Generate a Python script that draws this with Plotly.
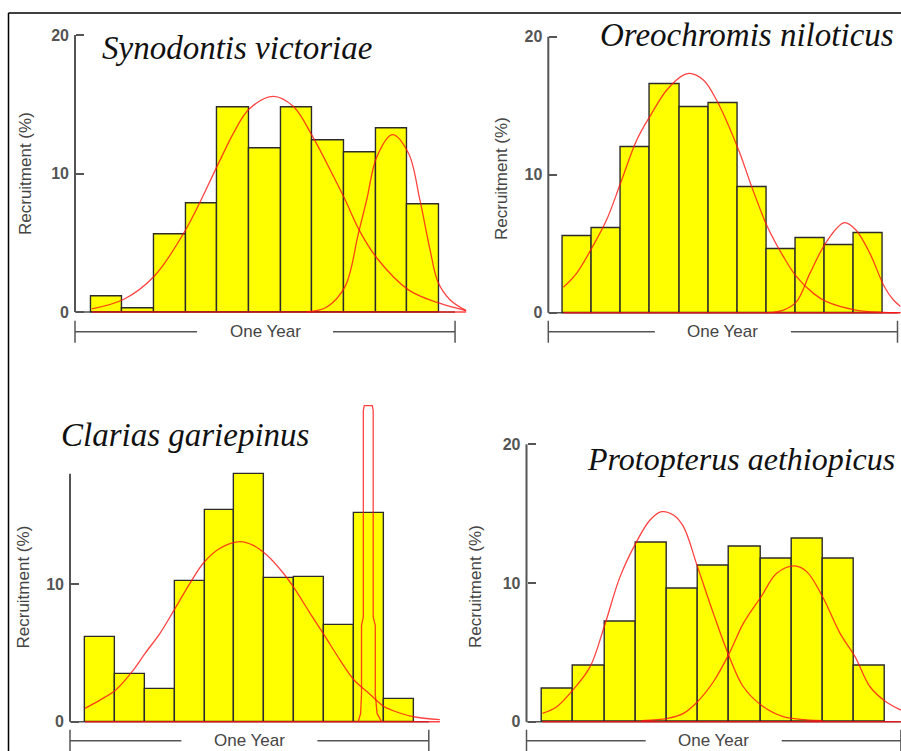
import plotly.graph_objects as go

# Page margins are removed (see post_script), so figure pixels equal screen pixels.
OFF = 0
W, H = 901, 751

# ---------------- data ----------------
months = [1, 2, 3, 4, 5, 6, 7, 8, 9, 10, 11]

syn_bars = [1.13, 0.29, 5.63, 7.82, 14.78, 11.84, 14.78, 12.37, 11.55, 13.24, 7.80]
ore_bars = [5.56, 6.11, 12.03, 16.57, 14.93, 15.22, 9.08, 4.59, 5.39, 4.86, 5.80]
cla_bars = [6.17, 3.49, 2.37, 10.24, 15.38, 18.0, 10.46, 10.48, 7.0, 15.13, 1.62]
pro_bars = [2.36, 4.04, 7.21, 12.91, 9.62, 11.25, 12.62, 11.78, 13.17, 11.78, 4.04]

syn_c1_x = [0.53, 1.56, 2.5, 3.49, 4.53, 5.0, 5.5, 6.26, 6.89, 7.5, 8.16, 8.53, 9.0, 9.53, 10.53, 11.46, 12.35]
syn_c1_y = [0.22, 0.94, 2.58, 5.92, 10.73, 12.9, 14.66, 15.57, 14.85, 12.68, 9.8, 8.1, 5.8, 3.9, 1.6, 0.67, 0.1]
syn_c2_x = [7.32, 7.95, 8.53, 8.95, 9.21, 9.53, 10.02, 10.53, 10.89, 11.21, 11.46, 11.84, 12.35]
syn_c2_y = [0.0, 0.36, 1.85, 5.7, 8.09, 11.2, 12.8, 11.46, 8.09, 4.5, 2.17, 0.89, 0.1]

ore_c1_x = [0.52, 0.97, 1.52, 2.0, 2.5, 3.04, 3.52, 4.07, 4.64, 4.87, 5.33, 5.78, 6.54, 6.99, 7.53, 8.08, 8.53, 9.11, 9.56, 10.57, 11.51, 12.12]
ore_c1_y = [1.84, 2.85, 4.78, 6.71, 9.49, 12.51, 14.32, 16.14, 17.22, 17.34, 16.86, 15.41, 11.79, 9.13, 6.23, 4.06, 2.61, 1.4, 0.8, 0.19, 0.02, 0.0]
ore_c2_x = [7.53, 8.08, 8.53, 8.99, 9.56, 10.17, 10.57, 11.05, 11.55, 11.86, 12.12]
ore_c2_y = [0.0, 0.19, 0.8, 2.85, 5.14, 6.52, 5.99, 4.3, 1.88, 0.92, 0.43]

cla_c1_x = [0.5, 1.0, 1.53, 2.12, 2.51, 3.01, 3.48, 4.01, 4.49, 5.02, 5.69, 6.13, 6.58, 7.13, 7.5, 8.03, 8.5, 9.03, 9.5, 10.03, 10.3, 10.5, 11.0, 11.5, 12.37]
cla_c1_y = [0.97, 1.57, 2.3, 3.75, 4.96, 6.42, 8.1, 10.05, 11.6, 12.6, 13.07, 12.8, 12.1, 10.8, 9.7, 7.87, 6.3, 4.48, 3.03, 2.0, 1.45, 1.1, 0.65, 0.36, 0.15]
cla_c2_x = [9.64, 9.72, 9.75, 9.75, 9.81, 9.81, 9.84, 10.11, 10.14, 10.14, 10.21, 10.21, 10.27, 10.42]
cla_c2_y = [0.0, 0.6, 2.0, 7.0, 7.6, 22.6, 22.95, 22.95, 22.6, 7.6, 7.0, 2.0, 0.6, 0.0]

pro_c1_x = [0.51, 0.97, 1.53, 2.04, 2.49, 3.0, 3.5, 3.96, 4.33, 4.71, 5.03, 5.48, 5.99, 6.5, 6.95, 7.52, 8.23, 8.77, 9.49]
pro_c1_y = [0.6, 1.08, 2.4, 3.97, 6.85, 10.46, 12.86, 14.54, 15.14, 14.9, 14.06, 11.18, 7.81, 4.69, 2.52, 1.2, 0.36, 0.17, 0.07]
pro_c2_x = [3.69, 4.52, 5.03, 5.48, 5.99, 6.5, 6.95, 7.52, 8.02, 8.59, 8.98, 9.49, 10.05, 10.53, 11.01, 11.52, 12.0]
pro_c2_y = [0.07, 0.24, 0.6, 1.44, 2.88, 4.93, 7.09, 9.01, 10.7, 11.23, 10.82, 9.01, 6.37, 4.69, 2.52, 1.44, 0.84]

titles = ["Synodontis victoriae", "Oreochromis niloticus", "Clarias gariepinus", "Protopterus aethiopicus"]
y_label = "Recruitment (%)"
x_label = "One Year"

# ---------------- layout geometry (screen pixels of the reference) ----------------
panels = [
    dict(bars=syn_bars, curves=[(syn_c1_x, syn_c1_y, "spline"), (syn_c2_x, syn_c2_y, "spline")],
         ox=75, sx=31.67, oy=312, sy=13.85, xr=(-0.5, 12.45), yr=(-0.6, 21.2),
         ytop=20, tickv=[0, 10, 20], brk=331.7,
         title=dict(x=237, y=48, anchor="center", size=33), ylab=(25, 174)),
    dict(bars=ore_bars, curves=[(ore_c1_x, ore_c1_y, "spline"), (ore_c2_x, ore_c2_y, "spline")],
         ox=548.3, sx=29.1, oy=312.7, sy=13.8, xr=(-0.5, 12.1), yr=(-0.6, 21.2),
         ytop=20, tickv=[0, 10, 20], brk=331.7,
         title=dict(x=747, y=35, anchor="center", size=33), ylab=(502, 179)),
    dict(bars=cla_bars, curves=[(cla_c1_x, cla_c1_y, "spline"), (cla_c2_x, cla_c2_y, "linear")],
         ox=70, sx=29.9, oy=721.7, sy=13.77, xr=(-0.5, 12.5), yr=(-0.6, 23.5),
         ytop=18, tickv=[0, 10], brk=740.7,
         title=dict(x=185, y=435, anchor="center", size=33), ylab=(22.5, 587)),
    dict(bars=pro_bars, curves=[(pro_c1_x, pro_c1_y, "spline"), (pro_c2_x, pro_c2_y, "spline")],
         ox=526.5, sx=31.2, oy=721.7, sy=13.87, xr=(-0.5, 12.0), yr=(-0.6, 21.2),
         ytop=20, tickv=[0, 10, 20], brk=740.7,
         title=dict(x=585, y=459, anchor="left", size=32), ylab=(475, 587)),
]


def px2p(px):
    return (px - OFF) / W


def py2p(py):
    return 1 - (py - OFF) / H


RED = "rgba(255,20,20,0.8)"
AXC = "#555555"
TXT = "#444444"

fig = go.Figure()
shapes = []
annotations = []
layout_axes = {}

for i, p in enumerate(panels):
    n = i + 1
    xa = "x" if n == 1 else f"x{n}"
    ya = "y" if n == 1 else f"y{n}"
    xkey = "xaxis" if n == 1 else f"xaxis{n}"
    ykey = "yaxis" if n == 1 else f"yaxis{n}"

    x0px = p["ox"] + p["xr"][0] * p["sx"]
    x1px = min(901, p["ox"] + p["xr"][1] * p["sx"])
    ytop_px = p["oy"] - p["yr"][1] * p["sy"]
    ybot_px = p["oy"] - p["yr"][0] * p["sy"]

    layout_axes[xkey] = dict(domain=[px2p(x0px), min(1, px2p(x1px))], range=list(p["xr"]),
                             anchor=ya, showgrid=False, zeroline=False, showline=False,
                             showticklabels=False, ticks="", fixedrange=True)
    layout_axes[ykey] = dict(domain=[py2p(ybot_px), min(1, py2p(ytop_px))], range=list(p["yr"]),
                             anchor="free", position=px2p(p["ox"]),
                             showgrid=False, zeroline=False, showline=False,
                             ticks="inside", ticklen=8, tickwidth=1.5, tickcolor=AXC,
                             tickvals=p["tickv"], ticktext=[f"<b>{v}</b>" for v in p["tickv"]],
                             tickfont=dict(family="Liberation Sans", size=16, color="#555555"),
                             ticklabelstandoff=6, fixedrange=True)

    # bars
    fig.add_trace(go.Bar(x=months, y=p["bars"], width=1.0, xaxis=xa, yaxis=ya,
                         marker=dict(color="#FFFF00", line=dict(color="#2b2b2b", width=1.4)),
                         showlegend=False, hoverinfo="skip"))
    # red baseline of the fitted curves
    allx = [v for c in p["curves"] for v in c[0]]
    fig.add_trace(go.Scatter(x=[min(allx), max(allx)], y=[0, 0], mode="lines", xaxis=xa, yaxis=ya,
                             line=dict(color=RED, width=1.4), showlegend=False, hoverinfo="skip"))
    for cx, cy, shp in p["curves"]:
        fig.add_trace(go.Scatter(x=cx, y=cy, mode="lines", xaxis=xa, yaxis=ya,
                                 line=dict(color=RED, width=1.3, shape=shp, smoothing=1.0),
                                 showlegend=False, hoverinfo="skip"))

    # y axis line and x baseline
    shapes.append(dict(type="line", xref=xa, yref=ya, x0=0, x1=0, y0=0, y1=p["ytop"],
                       line=dict(color=AXC, width=2), layer="below"))
    shapes.append(dict(type="line", xref=xa, yref=ya, x0=0, x1=12, y0=0, y1=0,
                       line=dict(color=AXC, width=1.5), layer="below"))

    # "One Year" bracket
    by = py2p(p["brk"])
    gap = 68 / p["sx"]
    shapes.append(dict(type="line", xref=xa, yref="paper", x0=0, x1=6 - gap, y0=by, y1=by,
                       line=dict(color=AXC, width=1.5)))
    shapes.append(dict(type="line", xref=xa, yref="paper", x0=6 + gap, x1=12, y0=by, y1=by,
                       line=dict(color=AXC, width=1.5)))
    for xe in (0, 12):
        shapes.append(dict(type="line", xref=xa, yref="paper", x0=xe, x1=xe,
                           y0=py2p(p["brk"] - 11), y1=py2p(p["brk"] + 11),
                           line=dict(color=AXC, width=1.5)))
    annotations.append(dict(text=x_label, xref=xa, yref="paper", x=6, y=by,
                            xanchor="center", yanchor="middle", showarrow=False,
                            font=dict(family="Liberation Sans", size=17, color=TXT)))
    # y label
    annotations.append(dict(text=y_label, xref="paper", yref="paper",
                            x=px2p(p["ylab"][0]), y=py2p(p["ylab"][1]), textangle=-90,
                            xanchor="center", yanchor="middle", showarrow=False,
                            font=dict(family="Liberation Sans", size=17, color=TXT)))
    # title
    t = p["title"]
    annotations.append(dict(text=titles[i], xref="paper", yref="paper",
                            x=px2p(t["x"]), y=py2p(t["y"]), xanchor=t["anchor"], yanchor="middle",
                            showarrow=False,
                            font=dict(family="Liberation Serif", size=t["size"], color="#111111",
                                      style="italic")))

# frame lines (top and left)
shapes.append(dict(type="line", xref="paper", yref="paper", x0=px2p(8.5), x1=1, y0=py2p(13), y1=py2p(13),
                   line=dict(color="black", width=1.5)))
shapes.append(dict(type="line", xref="paper", yref="paper", x0=px2p(8.5), x1=px2p(8.5), y0=py2p(13), y1=0,
                   line=dict(color="black", width=1.5)))

fig.update_layout(width=W, height=H, margin=dict(l=0, r=0, t=0, b=0),
                  paper_bgcolor="white", plot_bgcolor="white", bargap=0,
                  shapes=shapes, annotations=annotations, showlegend=False, **layout_axes)

fig.write_html("out.html", config={"displayModeBar": False},
               post_script="document.body.style.margin='0px';document.body.style.overflow='hidden';")
